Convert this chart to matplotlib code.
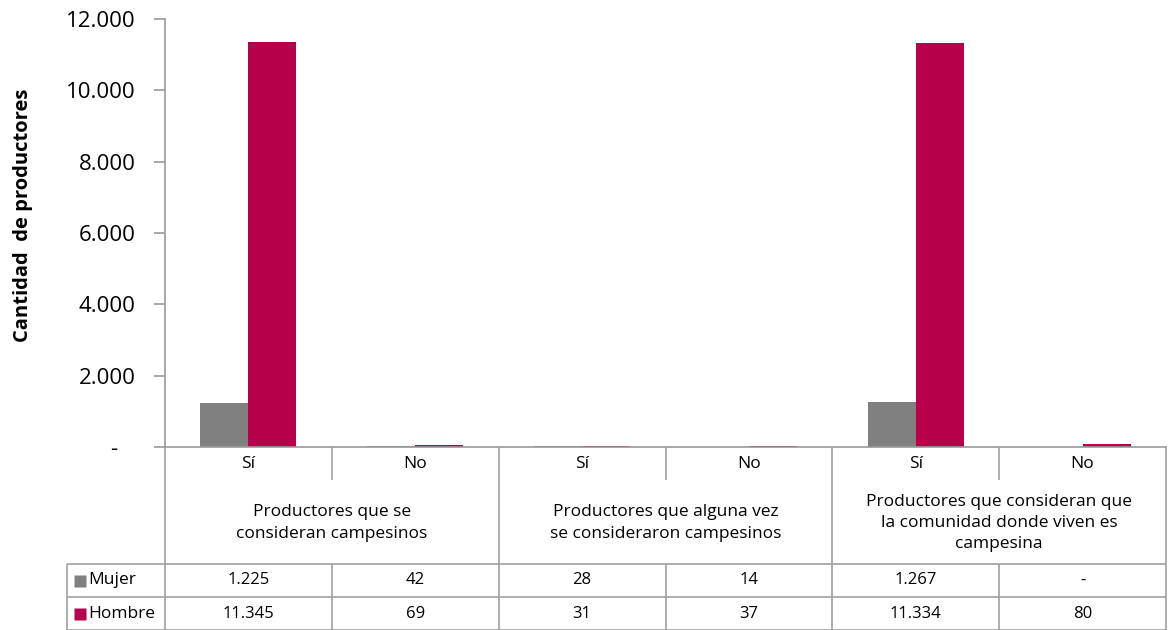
import matplotlib
matplotlib.use("Agg")
import matplotlib.pyplot as plt
from matplotlib.ticker import FuncFormatter, FixedLocator
import numpy as np

plt.rcParams['font.family'] = ['Open Sans', 'DejaVu Sans']

sub_labels = ["Sí", "No", "Sí", "No", "Sí", "No"]
groups = ["Productores que se\nconsideran campesinos",
          "Productores que alguna vez\nse consideraron campesinos",
          "Productores que consideran que\nla comunidad donde viven es\ncampesina"]
series_names = ["Mujer", "Hombre"]
mujer = [1225, 42, 28, 14, 1267, 0]
hombre = [11345, 69, 31, 37, 11334, 80]
colors = ["#808080", "#B8004A"]
yticks = [0, 2000, 4000, 6000, 8000, 10000, 12000]

def fmt(v):
    if v == 0:
        return "-"
    return f"{int(v):,}".replace(",", ".")

W, H = 1168, 630
fig = plt.figure(figsize=(W / 100, H / 100), dpi=100)

ax_l, ax_r = 165 / W, 1166 / W
ax_b, ax_t = (H - 447) / H, (H - 19) / H
ax = fig.add_axes([ax_l, ax_b, ax_r - ax_l, ax_t - ax_b])

n = len(sub_labels)
x = np.arange(n) + 0.5
bw = 0.288
ax.bar(x - bw / 2, mujer, bw, color=colors[0], zorder=2)
ax.bar(x + bw / 2, hombre, bw, color=colors[1], zorder=2)
ax.set_xlim(0, n)
ax.set_ylim(0, 12000)
ax.yaxis.set_major_locator(FixedLocator(yticks))
ax.yaxis.set_major_formatter(FuncFormatter(lambda v, p: "-   " if v == 0 else fmt(v)))
ax.tick_params(axis='y', labelsize=16, length=8, width=1.2, color="#999999", pad=13, labelcolor="#000000")
ax.tick_params(axis='x', bottom=False, labelbottom=False)
for s in ["top", "right"]:
    ax.spines[s].set_visible(False)
for s in ["left", "bottom"]:
    ax.spines[s].set_color("#999999")
    ax.spines[s].set_linewidth(1.2)
ax.set_ylabel("Cantidad  de productores", fontsize=14.5, fontweight='bold')
ax.yaxis.set_label_coords(-0.132, 0.542)

# table
tab = fig.add_axes([ax_l, 0, ax_r - ax_l, ax_b])
tab.set_xlim(0, n)
tab.set_ylim(0, 183)
tab.axis('off')
lc = "#A0A0A0"
lw = 1.2
left_x = -(165 - 67) / (1166 - 165) * n
kw = dict(color=lc, lw=lw, clip_on=False, solid_capstyle='butt')
# horizontal lines
tab.plot([left_x, n], [66, 66], **kw)
tab.plot([left_x, n], [33, 33], **kw)
tab.plot([left_x, n], [0, 0], **kw)
# vertical lines
for i in range(n + 1):
    if i % 2 == 0:
        tab.plot([i, i], [0, 183], **kw)
    else:
        tab.plot([i, i], [150, 183], **kw)
        tab.plot([i, i], [0, 66], **kw)
tab.plot([left_x, left_x], [0, 66], **kw)

for i, lab in enumerate(sub_labels):
    tab.text(i + 0.5, 166.5, lab, ha='center', va='center', fontsize=12.5)
for g, lab in enumerate(groups):
    tab.text(2 * g + 1, 107, lab, ha='center', va='center', fontsize=12.5, linespacing=1.42)
for r, (name, vals, c) in enumerate(zip(series_names, [mujer, hombre], colors)):
    yc = 49.5 - 33 * r
    for i, v in enumerate(vals):
        tab.text(i + 0.5, yc, fmt(v), ha='center', va='center', fontsize=12)
    tab.plot([left_x + 0.08], [yc], marker='s', ms=8.5, color=c, clip_on=False, mec='none')
    tab.text(left_x + 0.13, yc, name, ha='left', va='center', fontsize=12.5)

fig.savefig("out.png", dpi=100)
